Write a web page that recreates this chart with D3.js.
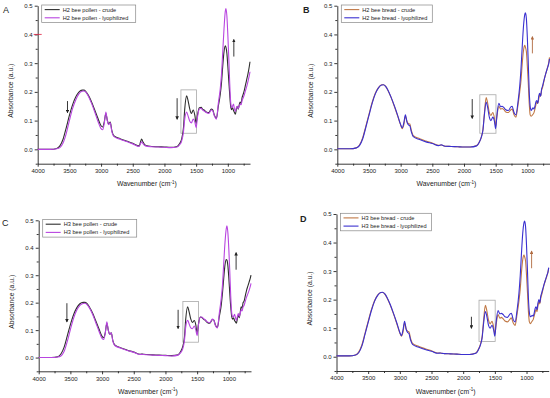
<!DOCTYPE html>
<html>
<head>
	<meta charset="utf-8">
	<title></title>
	<style type="text/css">
		body {
			margin: 0;
			background-color: #fff;
		}
		.viz {
			display: block;
			font-family: "Liberation Sans", Arial, sans-serif;
		}
		.tick text {
			font-size: 6px;
			fill: #222;
		}
		.domain, .tick line {
			stroke: #222;
			stroke-width: 0.9;
		}
	</style>
</head>
<body>
	<svg class="viz" width="550" height="398"></svg>

	<script src="https://cdn.jsdelivr.net/npm/d3@7"></script>
	<script type="text/javascript">

		// wavenumber grid shared by all spectra (cm-1)
		var wavenumbers = [4000, 3800, 3700, 3650, 3600, 3550, 3500, 3450, 3400, 3350, 3300, 3270, 3240, 3200, 3150, 3100, 3050, 3000, 2975, 2950,
			2925, 2900, 2880, 2855, 2830, 2800, 2700, 2600, 2500, 2400, 2360, 2340, 2300, 2200, 2100, 2000, 1900, 1800, 1760, 1730,
			1700, 1680, 1650, 1630, 1600, 1575, 1545, 1520, 1500, 1480, 1450, 1420, 1400, 1370, 1340, 1300, 1260, 1240, 1210, 1180,
			1150, 1120, 1100, 1080, 1060, 1040, 1030, 1015, 1000, 985, 970, 955, 940, 925, 910, 895, 880, 865, 850, 835,
			820, 805, 790, 775, 760, 740, 720, 700, 680, 660, 650];

		var h2PollenCrude = [0.000, 0.000, 0.003, 0.012, 0.035, 0.075, 0.118, 0.155, 0.182, 0.199, 0.206, 0.206, 0.201, 0.188, 0.165, 0.137, 0.108, 0.082, 0.078, 0.095,
			0.125, 0.100, 0.088, 0.095, 0.065, 0.048, 0.037, 0.029, 0.021, 0.012, 0.036, 0.026, 0.014, 0.010, 0.009, 0.008, 0.007, 0.010, 0.020, 0.035,
			0.075, 0.140, 0.186, 0.172, 0.140, 0.125, 0.137, 0.118, 0.090, 0.118, 0.145, 0.146, 0.140, 0.136, 0.130, 0.128, 0.140, 0.138, 0.118, 0.108,
			0.150, 0.190, 0.230, 0.290, 0.340, 0.360, 0.356, 0.335, 0.290, 0.240, 0.190, 0.150, 0.138, 0.145, 0.135, 0.128, 0.122, 0.140, 0.150, 0.140,
			0.155, 0.165, 0.160, 0.180, 0.190, 0.205, 0.225, 0.245, 0.265, 0.290, 0.305];
		var h2PollenLyo = [0.000, 0.000, 0.002, 0.006, 0.022, 0.055, 0.100, 0.142, 0.172, 0.193, 0.202, 0.203, 0.199, 0.185, 0.160, 0.130, 0.098, 0.072, 0.068, 0.090,
			0.130, 0.098, 0.086, 0.092, 0.062, 0.045, 0.035, 0.027, 0.019, 0.010, 0.026, 0.020, 0.012, 0.009, 0.008, 0.007, 0.006, 0.008, 0.016, 0.028,
			0.060, 0.105, 0.130, 0.118, 0.098, 0.092, 0.105, 0.095, 0.075, 0.110, 0.140, 0.143, 0.137, 0.133, 0.128, 0.125, 0.137, 0.135, 0.115, 0.105,
			0.160, 0.210, 0.260, 0.340, 0.420, 0.480, 0.490, 0.465, 0.400, 0.320, 0.230, 0.165, 0.145, 0.150, 0.158, 0.140, 0.132, 0.145, 0.150, 0.142,
			0.150, 0.158, 0.155, 0.170, 0.178, 0.190, 0.205, 0.220, 0.238, 0.258, 0.270];
		var h2BreadCrude = [0.002, 0.002, 0.005, 0.015, 0.040, 0.080, 0.122, 0.163, 0.195, 0.215, 0.225, 0.225, 0.220, 0.205, 0.180, 0.150, 0.118, 0.085, 0.072, 0.085,
			0.115, 0.098, 0.090, 0.088, 0.065, 0.048, 0.037, 0.029, 0.022, 0.014, 0.015, 0.014, 0.011, 0.010, 0.009, 0.008, 0.008, 0.013, 0.025, 0.040,
			0.070, 0.120, 0.180, 0.165, 0.128, 0.118, 0.128, 0.110, 0.082, 0.115, 0.150, 0.140, 0.142, 0.138, 0.130, 0.128, 0.138, 0.140, 0.120, 0.112,
			0.150, 0.200, 0.240, 0.300, 0.345, 0.362, 0.355, 0.340, 0.290, 0.230, 0.160, 0.120, 0.115, 0.118, 0.122, 0.128, 0.140, 0.155, 0.165, 0.160,
			0.175, 0.190, 0.185, 0.205, 0.215, 0.235, 0.255, 0.270, 0.285, 0.305, 0.320];
		var h2BreadLyo = [0.002, 0.002, 0.005, 0.013, 0.036, 0.076, 0.118, 0.160, 0.193, 0.214, 0.224, 0.225, 0.220, 0.206, 0.181, 0.152, 0.120, 0.086, 0.075, 0.092,
			0.120, 0.095, 0.086, 0.082, 0.060, 0.044, 0.034, 0.026, 0.020, 0.013, 0.016, 0.014, 0.011, 0.010, 0.009, 0.008, 0.008, 0.012, 0.024, 0.040,
			0.068, 0.115, 0.165, 0.150, 0.112, 0.100, 0.112, 0.098, 0.072, 0.118, 0.160, 0.148, 0.150, 0.145, 0.138, 0.135, 0.148, 0.150, 0.128, 0.120,
			0.160, 0.220, 0.280, 0.360, 0.430, 0.470, 0.475, 0.455, 0.390, 0.300, 0.200, 0.150, 0.135, 0.140, 0.145, 0.140, 0.150, 0.165, 0.170, 0.160,
			0.185, 0.195, 0.185, 0.210, 0.220, 0.238, 0.255, 0.270, 0.285, 0.300, 0.315];
		var h3PollenCrude = [0.000, 0.000, 0.003, 0.013, 0.037, 0.078, 0.120, 0.156, 0.181, 0.196, 0.201, 0.201, 0.197, 0.184, 0.162, 0.134, 0.105, 0.077, 0.072, 0.090,
			0.125, 0.098, 0.085, 0.090, 0.062, 0.046, 0.035, 0.027, 0.020, 0.012, 0.013, 0.012, 0.011, 0.010, 0.009, 0.008, 0.007, 0.010, 0.022, 0.038,
			0.075, 0.140, 0.185, 0.170, 0.140, 0.128, 0.135, 0.118, 0.088, 0.120, 0.148, 0.145, 0.140, 0.135, 0.128, 0.125, 0.138, 0.138, 0.118, 0.110,
			0.150, 0.190, 0.235, 0.290, 0.338, 0.357, 0.355, 0.335, 0.290, 0.235, 0.185, 0.150, 0.140, 0.145, 0.135, 0.130, 0.125, 0.142, 0.155, 0.145,
			0.165, 0.185, 0.180, 0.200, 0.205, 0.225, 0.245, 0.260, 0.275, 0.290, 0.300];
		var h3PollenLyo = [0.000, 0.000, 0.002, 0.006, 0.022, 0.058, 0.102, 0.143, 0.172, 0.190, 0.197, 0.198, 0.194, 0.181, 0.158, 0.128, 0.097, 0.070, 0.066, 0.088,
			0.130, 0.097, 0.084, 0.090, 0.060, 0.044, 0.034, 0.026, 0.019, 0.011, 0.012, 0.011, 0.010, 0.009, 0.008, 0.007, 0.006, 0.009, 0.018, 0.030,
			0.062, 0.112, 0.136, 0.125, 0.108, 0.105, 0.115, 0.100, 0.080, 0.118, 0.148, 0.147, 0.142, 0.137, 0.130, 0.127, 0.140, 0.137, 0.116, 0.108,
			0.162, 0.215, 0.265, 0.345, 0.420, 0.470, 0.480, 0.455, 0.395, 0.315, 0.225, 0.165, 0.148, 0.150, 0.158, 0.145, 0.135, 0.150, 0.160, 0.150,
			0.160, 0.175, 0.170, 0.185, 0.190, 0.205, 0.220, 0.232, 0.245, 0.260, 0.270];
		var h3BreadCrude = [0.003, 0.003, 0.006, 0.016, 0.041, 0.082, 0.124, 0.164, 0.196, 0.216, 0.225, 0.225, 0.220, 0.205, 0.180, 0.150, 0.117, 0.083, 0.072, 0.086,
			0.118, 0.097, 0.090, 0.087, 0.063, 0.047, 0.036, 0.028, 0.021, 0.013, 0.013, 0.012, 0.011, 0.010, 0.009, 0.008, 0.008, 0.013, 0.026, 0.042,
			0.072, 0.122, 0.180, 0.165, 0.128, 0.115, 0.124, 0.105, 0.080, 0.112, 0.148, 0.135, 0.138, 0.133, 0.125, 0.122, 0.132, 0.136, 0.118, 0.110,
			0.148, 0.195, 0.235, 0.295, 0.340, 0.356, 0.350, 0.335, 0.285, 0.225, 0.158, 0.122, 0.116, 0.120, 0.125, 0.130, 0.142, 0.155, 0.165, 0.158,
			0.178, 0.192, 0.185, 0.205, 0.218, 0.236, 0.254, 0.268, 0.282, 0.298, 0.310];
		var h3BreadLyo = [0.003, 0.003, 0.006, 0.014, 0.037, 0.078, 0.120, 0.161, 0.194, 0.215, 0.225, 0.226, 0.221, 0.207, 0.182, 0.152, 0.120, 0.085, 0.074, 0.094,
			0.124, 0.096, 0.086, 0.080, 0.058, 0.043, 0.033, 0.025, 0.019, 0.012, 0.013, 0.012, 0.011, 0.010, 0.009, 0.008, 0.008, 0.012, 0.024, 0.040,
			0.068, 0.112, 0.158, 0.145, 0.110, 0.100, 0.110, 0.095, 0.072, 0.120, 0.162, 0.150, 0.152, 0.148, 0.140, 0.138, 0.150, 0.152, 0.130, 0.122,
			0.162, 0.222, 0.282, 0.362, 0.432, 0.470, 0.475, 0.455, 0.390, 0.300, 0.205, 0.155, 0.140, 0.142, 0.145, 0.142, 0.152, 0.168, 0.175, 0.165,
			0.188, 0.200, 0.190, 0.212, 0.224, 0.240, 0.256, 0.270, 0.284, 0.298, 0.312];

		// axis ticks
		var xTicks = [4000, 3500, 3000, 2500, 2000, 1500, 1000];
		var xMinor = [3750, 3250, 2750, 2250, 1750, 1250, 750];
		var yTicks = [0.0, 0.1, 0.2, 0.3, 0.4, 0.5];
		var yMinor = [-0.05, 0.05, 0.15, 0.25, 0.35, 0.45];

		// legend labels
		var legendA = ['H2 bee pollen - crude', 'H2 bee pollen - lyophilized'];
		var legendB = ['H2 bee bread - crude', 'H2 bee bread - lyophilized'];
		var legendC = ['H3 bee pollen - crude', 'H3 bee pollen - lyophilized'];
		var legendD = ['H3 bee bread - crude', 'H3 bee bread - lyophilized'];

		// annotation arrows [wavenumber, from, to] and highlight boxes [wn1, wn2, y1, y2]
		var arrowsA = [[3530, 0.168, 0.128], [1800, 0.178, 0.105], [905, 0.323, 0.382]];
		var arrowsB = [[1870, 0.175, 0.108], [920, 0.334, 0.392]];
		var arrowsC = [[3555, 0.198, 0.130], [1800, 0.174, 0.106], [885, 0.320, 0.382]];
		var arrowsD = [[1870, 0.140, 0.100], [920, 0.310, 0.370]];
		var boxA = [1740, 1495, 0.056, 0.207];
		var boxB = [1750, 1495, 0.056, 0.190];
		var boxC = [1725, 1480, 0.056, 0.204];
		var boxD = [1750, 1495, 0.053, 0.198];

		var panels = [
			{ letter: 'A', bold: false, left: 37.7, right: 250, top: 5.7, bottom: 163.7, legend: legendA, crude: h2PollenCrude, lyo: h2PollenLyo,
				colors: ['#2e2e2e', '#b845e0'], arrows: arrowsA, upColor: '#222', box: boxA, lx: 3, ly: 12.5 },
			{ letter: 'B', bold: true, left: 337.3, right: 549.5, top: 5.7, bottom: 163.7, legend: legendB, crude: h2BreadCrude, lyo: h2BreadLyo,
				colors: ['#c07845', '#3a30d0'], arrows: arrowsB, upColor: '#b06a40', box: boxB, lx: 303, ly: 12.5 },
			{ letter: 'C', bold: false, left: 38.7, right: 251, top: 220.3, bottom: 371.3, legend: legendC, crude: h3PollenCrude, lyo: h3PollenLyo,
				colors: ['#2e2e2e', '#b845e0'], arrows: arrowsC, upColor: '#222', box: boxC, lx: 2, ly: 225.5 },
			{ letter: 'D', bold: true, left: 336.5, right: 548.7, top: 214, bottom: 371, legend: legendD, crude: h3BreadCrude, lyo: h3BreadLyo,
				colors: ['#c07845', '#3a30d0'], arrows: arrowsD, upColor: '#b06a40', box: boxD, lx: 300, ly: 222 }
		];

		var canvas = d3.select('.viz');

		canvas.append('defs').selectAll('marker')
			.data(['#222', '#b06a40'])
			.enter().append('marker')
				.attr('id', function(d, i) { return 'head' + i; })
				.attr('viewBox', '0 0 10 10')
				.attr('refX', 8).attr('refY', 5)
				.attr('markerWidth', 4).attr('markerHeight', 4)
				.attr('orient', 'auto')
				.append('path')
					.attr('d', 'M0,0L10,5L0,10z')
					.attr('fill', function(d) { return d; });

		panels.forEach(function(p, pi) {
			var x = d3.scaleLinear().domain([4000, 650]).range([p.left, p.right]);
			var y = d3.scaleLinear().domain([-0.05, 0.5]).range([p.bottom, p.top]);
			var g = canvas.append('g');

			// panel letter
			g.append('text')
				.attr('x', p.lx).attr('y', p.ly)
				.attr('font-size', 9)
				.attr('font-weight', p.bold ? 'bold' : 'normal')
				.attr('fill', '#222')
				.text(p.letter);

			// minor ticks
			g.append('g')
				.attr('transform', 'translate(0,' + p.bottom + ')')
				.call(d3.axisBottom(x).tickValues(xMinor).tickSize(2).tickFormat(''))
				.select('.domain').remove();
			g.append('g')
				.attr('transform', 'translate(' + p.left + ',0)')
				.call(d3.axisLeft(y).tickValues(yMinor).tickSize(2).tickFormat(''))
				.select('.domain').remove();

			// main axes
			g.append('g')
				.attr('transform', 'translate(0,' + p.bottom + ')')
				.call(d3.axisBottom(x).tickValues(xTicks).tickSize(3).tickPadding(2).tickSizeOuter(0).tickFormat(d3.format('d')));
			g.append('g')
				.attr('transform', 'translate(' + p.left + ',0)')
				.call(d3.axisLeft(y).tickValues(yTicks).tickSize(3).tickPadding(2).tickSizeOuter(0).tickFormat(d3.format('.1f')));

			// axis titles
			var xt = g.append('text')
				.attr('x', (p.left + p.right) / 2 + 3)
				.attr('y', p.bottom + 22.5)
				.attr('text-anchor', 'middle')
				.attr('font-size', 6.8)
				.attr('fill', '#222')
				.text('Wavenumber (cm');
			xt.append('tspan').attr('dy', -2.5).attr('font-size', 4.5).text('-1');
			xt.append('tspan').attr('dy', 2.5).text(')');

			g.append('text')
				.attr('transform', 'translate(' + (p.left - 24.5) + ',' + ((p.top + p.bottom) / 2 + 6) + ') rotate(-90)')
				.attr('text-anchor', 'middle')
				.attr('font-size', 6.8)
				.attr('fill', '#222')
				.text('Absorbance (a.u.)');

			// highlight box
			g.append('rect')
				.attr('x', x(p.box[0]))
				.attr('y', y(p.box[3]))
				.attr('width', x(p.box[1]) - x(p.box[0]))
				.attr('height', y(p.box[2]) - y(p.box[3]))
				.attr('fill', 'none')
				.attr('stroke', '#a8a8a8')
				.attr('stroke-width', 0.8);

			// spectra
			var line = d3.line()
				.x(function(d) { return x(d[0]); })
				.y(function(d) { return y(d[1]); })
				.curve(d3.curveMonotoneX);

			[p.crude, p.lyo].forEach(function(vals, si) {
				g.append('path')
					.datum(d3.zip(wavenumbers, vals))
					.attr('d', line)
					.attr('fill', 'none')
					.attr('stroke', p.colors[si])
					.attr('stroke-width', 1.1)
					.attr('stroke-linejoin', 'round');
			});

			// arrows
			g.selectAll('.arrow').data(p.arrows)
				.enter().append('line')
					.attr('class', 'arrow')
					.attr('x1', function(d) { return x(d[0]); })
					.attr('x2', function(d) { return x(d[0]); })
					.attr('y1', function(d) { return y(d[1]); })
					.attr('y2', function(d) { return y(d[2]); })
					.attr('stroke', function(d) { return d[2] > d[1] ? p.upColor : '#222'; })
					.attr('stroke-width', 0.9)
					.attr('marker-end', function(d) {
						return (d[2] > d[1] && p.upColor !== '#222') ? 'url(#head1)' : 'url(#head0)';
					});

			// legend
			var lg = g.append('g').attr('transform', 'translate(' + (p.left + 4) + ',' + (p.top - 0.7) + ')');
			var lw = pi % 2 === 0 ? 94 : 91;
			lg.append('rect')
				.attr('width', lw).attr('height', 17.5)
				.attr('fill', '#fff')
				.attr('stroke', '#888')
				.attr('stroke-width', 0.7);
			p.legend.forEach(function(label, i) {
				var ly = 4.6 + i * 8.2;
				lg.append('line')
					.attr('x1', 3).attr('x2', 18)
					.attr('y1', ly).attr('y2', ly)
					.attr('stroke', p.colors[i])
					.attr('stroke-width', 1.1);
				lg.append('text')
					.attr('x', 21).attr('y', ly + 2)
					.attr('font-size', 5.6)
					.attr('fill', '#222')
					.text(label);
			});

			// small red mark on the 0.4 tick in panel A
			if (p.letter === 'A') {
				g.append('line')
					.attr('x1', p.left - 4).attr('x2', p.left + 4)
					.attr('y1', y(0.4)).attr('y2', y(0.4))
					.attr('stroke', '#e02040')
					.attr('stroke-width', 0.8);
			}
		});

	</script>
</body>
</html>
